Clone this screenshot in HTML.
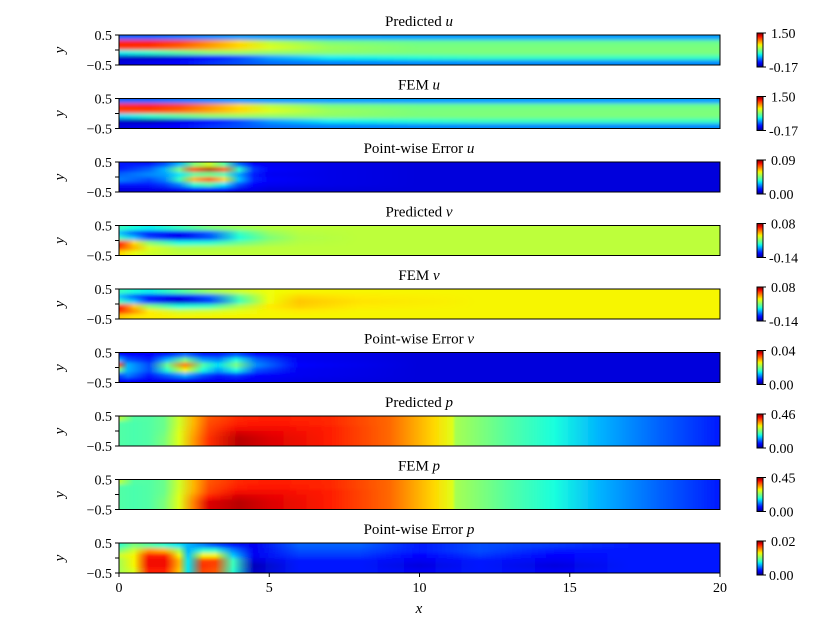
<!DOCTYPE html>
<html><head><meta charset="utf-8"><style>
html,body{margin:0;padding:0;background:#fff;}
svg{display:block;font-family:"Liberation Serif",serif;}
</style></head><body>
<svg id="fig" width="833" height="627" viewBox="0 0 833 627" xmlns="http://www.w3.org/2000/svg"></svg>
<script>
// ---- data (colormap fractions 0..1, rows top (y=0.5) to bottom (y=-0.5)) ----
const panelTitles = ["Predicted","FEM","Point-wise Error","Predicted","FEM","Point-wise Error","Predicted","FEM","Point-wise Error"];
const panelVars = ["u","u","u","v","v","v","p","p","p"];
const cbarMax = ["1.50","1.50","0.09","0.08","0.08","0.04","0.46","0.45","0.02"];
const cbarMin = ["-0.17","-0.17","0.00","-0.14","-0.14","0.00","0.00","0.00","0.00"];
const yTicks = [0.5, 0, -0.5];
const yTickLabels = ["0.5","", "\u22120.5"];
const xTicks = [0,5,10,15,20];

const xsU = [0,1,2,3,4,5,7,10,12,15,20];
const predU = [
 [0.22,0.22,0.24,0.26,0.28,0.28,0.28,0.28,0.28,0.28,0.28],
 [0.88,0.88,0.84,0.76,0.68,0.58,0.50,0.48,0.48,0.48,0.48],
 [0.86,0.85,0.80,0.74,0.68,0.62,0.54,0.50,0.50,0.50,0.50],
 [0.36,0.40,0.46,0.52,0.54,0.53,0.52,0.50,0.50,0.50,0.50],
 [0.06,0.05,0.08,0.13,0.20,0.28,0.36,0.40,0.42,0.42,0.42],
 [0.08,0.10,0.13,0.17,0.20,0.23,0.25,0.26,0.26,0.26,0.26]];
const femU = [
 [0.22,0.22,0.24,0.26,0.28,0.28,0.28,0.28,0.28,0.28,0.28],
 [0.87,0.88,0.84,0.76,0.68,0.58,0.50,0.48,0.48,0.48,0.48],
 [0.84,0.84,0.80,0.74,0.68,0.62,0.54,0.50,0.50,0.50,0.50],
 [0.34,0.40,0.46,0.52,0.54,0.53,0.52,0.50,0.50,0.50,0.50],
 [0.06,0.04,0.08,0.13,0.20,0.28,0.36,0.40,0.42,0.42,0.42],
 [0.08,0.10,0.13,0.17,0.20,0.23,0.25,0.26,0.26,0.26,0.26]];
const xsEu = [0,1,1.5,2,2.5,3,3.5,4,4.5,5,7,10,15,20];
const errU = [
 [0.15,0.15,0.20,0.30,0.50,0.60,0.45,0.22,0.12,0.10,0.09,0.08,0.08,0.08],
 [0.15,0.22,0.30,0.50,0.85,0.95,0.82,0.40,0.18,0.12,0.09,0.08,0.08,0.08],
 [0.22,0.26,0.28,0.35,0.45,0.48,0.42,0.28,0.15,0.10,0.09,0.08,0.08,0.08],
 [0.25,0.20,0.25,0.42,0.72,0.82,0.68,0.32,0.16,0.12,0.09,0.08,0.08,0.08],
 [0.15,0.15,0.18,0.25,0.40,0.45,0.35,0.20,0.12,0.10,0.09,0.08,0.08,0.08],
 [0.08,0.09,0.09,0.10,0.12,0.12,0.11,0.09,0.09,0.08,0.08,0.08,0.08,0.08]];
const xsV = [0,0.5,1,2,3,4,5,6,8,12,20];
const predV = [
 [0.42,0.38,0.36,0.42,0.50,0.54,0.57,0.58,0.58,0.58,0.58],
 [0.32,0.22,0.14,0.10,0.22,0.42,0.53,0.57,0.58,0.58,0.58],
 [0.42,0.32,0.20,0.10,0.20,0.38,0.50,0.56,0.58,0.58,0.58],
 [0.88,0.68,0.52,0.38,0.40,0.48,0.54,0.57,0.58,0.58,0.58],
 [0.84,0.72,0.62,0.56,0.56,0.57,0.58,0.58,0.58,0.58,0.58],
 [0.68,0.63,0.60,0.58,0.58,0.58,0.58,0.58,0.58,0.58,0.58]];
const femV = [
 [0.42,0.38,0.36,0.44,0.54,0.60,0.64,0.65,0.65,0.65,0.65],
 [0.32,0.22,0.14,0.10,0.22,0.46,0.64,0.68,0.66,0.65,0.65],
 [0.42,0.32,0.18,0.07,0.18,0.42,0.64,0.70,0.67,0.65,0.65],
 [0.88,0.70,0.52,0.38,0.42,0.56,0.66,0.69,0.66,0.65,0.65],
 [0.86,0.76,0.66,0.60,0.61,0.63,0.65,0.66,0.65,0.65,0.65],
 [0.70,0.67,0.66,0.65,0.65,0.65,0.65,0.65,0.65,0.65,0.65]];
const xsEv = [0,0.3,1,1.6,2.2,2.8,3.3,3.9,4.6,6,10,20];
const errV = [
 [0.12,0.12,0.12,0.15,0.22,0.15,0.15,0.20,0.12,0.10,0.08,0.08],
 [0.30,0.20,0.15,0.30,0.50,0.28,0.25,0.38,0.22,0.10,0.08,0.08],
 [0.85,0.30,0.20,0.48,0.78,0.45,0.35,0.50,0.26,0.11,0.08,0.08],
 [0.50,0.30,0.20,0.40,0.65,0.38,0.28,0.38,0.20,0.10,0.08,0.08],
 [0.20,0.25,0.15,0.22,0.30,0.20,0.15,0.18,0.12,0.10,0.08,0.08],
 [0.10,0.12,0.10,0.10,0.10,0.10,0.10,0.10,0.10,0.09,0.08,0.08]];
const xsP = [0,0.5,1,1.5,2,2.5,3,4,5,7,9,10.5,11.1,11.2,13,14.5,16,18,20];
const predP = [
 [0.58,0.45,0.45,0.48,0.60,0.72,0.82,0.87,0.88,0.87,0.80,0.68,0.62,0.55,0.45,0.38,0.30,0.22,0.15],
 [0.45,0.44,0.45,0.48,0.60,0.72,0.83,0.88,0.89,0.87,0.80,0.68,0.62,0.55,0.45,0.38,0.30,0.22,0.15],
 [0.45,0.44,0.45,0.48,0.61,0.73,0.84,0.90,0.90,0.88,0.80,0.68,0.62,0.55,0.45,0.38,0.30,0.22,0.15],
 [0.45,0.44,0.45,0.49,0.62,0.74,0.85,0.93,0.91,0.88,0.80,0.68,0.62,0.55,0.45,0.38,0.30,0.22,0.15],
 [0.45,0.44,0.45,0.50,0.62,0.75,0.86,0.95,0.92,0.88,0.80,0.68,0.62,0.55,0.45,0.38,0.30,0.22,0.15],
 [0.45,0.44,0.45,0.50,0.62,0.75,0.86,0.95,0.92,0.88,0.80,0.68,0.62,0.55,0.45,0.38,0.30,0.22,0.15]];
const femP = [
 [0.58,0.45,0.45,0.48,0.60,0.72,0.82,0.87,0.88,0.87,0.80,0.68,0.62,0.55,0.45,0.38,0.30,0.22,0.15],
 [0.45,0.44,0.45,0.48,0.60,0.72,0.83,0.88,0.89,0.87,0.80,0.68,0.62,0.55,0.45,0.38,0.30,0.22,0.15],
 [0.45,0.44,0.45,0.48,0.61,0.73,0.84,0.90,0.90,0.88,0.80,0.68,0.62,0.55,0.45,0.38,0.30,0.22,0.15],
 [0.45,0.44,0.45,0.49,0.62,0.76,0.88,0.93,0.91,0.88,0.80,0.68,0.62,0.55,0.45,0.38,0.30,0.22,0.15],
 [0.45,0.44,0.45,0.50,0.62,0.78,0.92,0.95,0.92,0.88,0.80,0.68,0.62,0.55,0.45,0.38,0.30,0.22,0.15],
 [0.45,0.44,0.45,0.50,0.62,0.78,0.92,0.95,0.92,0.88,0.80,0.68,0.62,0.55,0.45,0.38,0.30,0.22,0.15]];
const xsEp = [0,0.5,1,1.5,2,2.3,2.8,3.2,3.8,4.5,6,8,10,12,14.5,17,20];
const errP = [
 [0.40,0.50,0.45,0.40,0.35,0.30,0.25,0.20,0.15,0.10,0.22,0.22,0.15,0.20,0.18,0.15,0.15],
 [0.50,0.60,0.75,0.72,0.55,0.30,0.40,0.40,0.25,0.10,0.20,0.20,0.15,0.20,0.15,0.15,0.15],
 [0.60,0.65,0.88,0.88,0.65,0.32,0.65,0.65,0.32,0.10,0.18,0.18,0.12,0.18,0.12,0.15,0.15],
 [0.55,0.65,0.90,0.90,0.72,0.35,0.84,0.84,0.42,0.08,0.15,0.15,0.10,0.15,0.10,0.15,0.15],
 [0.55,0.65,0.90,0.90,0.72,0.35,0.86,0.84,0.42,0.05,0.15,0.15,0.08,0.15,0.08,0.15,0.15],
 [0.55,0.62,0.88,0.88,0.70,0.35,0.84,0.82,0.40,0.06,0.15,0.15,0.10,0.15,0.10,0.15,0.15]];
const panelXs = [xsU,xsU,xsEu,xsV,xsV,xsEv,xsP,xsP,xsEp];
const panelRows = [predU,femU,errU,predV,femV,errV,predP,femP,errP];

// ---- layout ----
const NS="http://www.w3.org/2000/svg";
const svg=document.getElementById('fig');
const X0=119, X1=720, TOP0=35, STEP=63.5, H=30;
const xScale=v=>X0+(v/20)*(X1-X0);
const yScale=(v,top)=>top+(0.5-v)*H;
function pw(pts,t){for(let i=1;i<pts.length;i++){if(t<=pts[i][0]){const a=pts[i-1],b=pts[i];return a[1]+(b[1]-a[1])*(t-a[0])/(b[0]-a[0]);}}return pts[pts.length-1][1];}
const JR=[[0,0],[0.35,0],[0.66,1],[0.89,1],[1,0.5]];
const JG=[[0,0],[0.125,0],[0.375,1],[0.64,1],[0.91,0],[1,0]];
const JB=[[0,0.5],[0.11,1],[0.34,1],[0.65,0],[1,0]];
function jet(t){t=Math.max(0,Math.min(1,t));
 return `rgb(${Math.round(pw(JR,t)*255)},${Math.round(pw(JG,t)*255)},${Math.round(pw(JB,t)*255)})`;}
function mk(tag,attrs,parent){const e=document.createElementNS(NS,tag);for(const k in attrs)e.setAttribute(k,attrs[k]);(parent||svg).appendChild(e);return e;}
const defs=mk('defs',{});
const flt=mk('filter',{id:'vblur',x:'-0.1',y:'-0.5',width:'1.2',height:'2'},defs);
mk('feGaussianBlur',{stdDeviation:'0.6 1.8'},flt);

const cg=mk('linearGradient',{id:'cbg',x1:'0',y1:'1',x2:'0',y2:'0'},defs);
for(let i=0;i<=20;i++)mk('stop',{offset:i/20,'stop-color':jet(i/20)},cg);

for(let p=0;p<9;p++){
 const top=TOP0+p*STEP;
 const g=mk('g',{});
 
 
 const cp=mk('clipPath',{id:'cp'+p},defs);
 mk('rect',{x:X0,y:top,width:X1-X0,height:H},cp);
 const hm=mk('g',{'clip-path':`url(#cp${p})`},g);
 
 
 const inner=mk('g',{filter:'url(#vblur)'},hm);
 const rows=panelRows[p], xs=panelXs[p], nr=rows.length, rh=H/nr;
 rows.forEach((row,ri)=>{
  const gid=`g${p}_${ri}`;
  const lg=mk('linearGradient',{id:gid,gradientUnits:'userSpaceOnUse',x1:xScale(0),y1:0,x2:xScale(20),y2:0},defs);
  xs.forEach((xv,k)=>mk('stop',{offset:xv/20,'stop-color':jet(row[k])},lg));
  const yy=top+ri*rh;
  const r=mk('rect',{x:X0-6,y:(ri===0?top-6:yy),width:X1-X0+12,height:rh+(ri===0?6:0)+(ri===nr-1?6:0.5),fill:`url(#${gid})`},inner);
  
  
 });
 const fr=mk('rect',{x:X0,y:top,width:X1-X0,height:H,fill:'none',stroke:'#000','stroke-width':1},g);
 
 
 const t=mk('text',{x:419,y:top-9,'text-anchor':'middle','font-size':15},g);
 
 
 t.textContent=panelTitles[p]+' ';
 const ts=mk('tspan',{'font-style':'italic'},t); ts.textContent=panelVars[p];
 yTicks.forEach((v,i)=>{
  const y=yScale(v,top);
  mk('line',{x1:X0-4,x2:X0,y1:y,y2:y,stroke:'#000','stroke-width':1},g);
  if(yTickLabels[i]){const tl=mk('text',{x:X0-7,y:y+5,'text-anchor':'end','font-size':14},g);
   
   
   tl.textContent=yTickLabels[i];}
 });
 const yl=mk('text',{x:0,y:0,'font-size':15,'font-style':'italic','text-anchor':'middle',transform:`translate(64,${top+H/2}) rotate(-90)`},g);
 
 
 yl.textContent='y';
 const cb=mk('rect',{x:757,y:top-2,width:6,height:H+4,fill:'url(#cbg)',stroke:'#000','stroke-width':1},g);
 
 
 mk('line',{x1:763,x2:766,y1:top-2,y2:top-2,stroke:'#000'},g);
 mk('line',{x1:763,x2:766,y1:top+H+2,y2:top+H+2,stroke:'#000'},g);
 const c1=mk('text',{x:771,y:top+3,'font-size':14},g);
 
 
 c1.textContent=cbarMax[p];
 const c2=mk('text',{x:769,y:top+H+7,'font-size':14},g);
 
 
 c2.textContent=cbarMin[p];
}
const bot=TOP0+8*STEP+H;
xTicks.forEach(v=>{
 const x=xScale(v);
 mk('line',{x1:x,x2:x,y1:bot,y2:bot+4,stroke:'#000'});
 const t=mk('text',{x:x,y:bot+19,'text-anchor':'middle','font-size':14});
 
 
 t.textContent=String(v);
});
const xl=mk('text',{x:419,y:bot+40,'text-anchor':'middle','font-size':15,'font-style':'italic'});


xl.textContent='x';
</script>
</body></html>
